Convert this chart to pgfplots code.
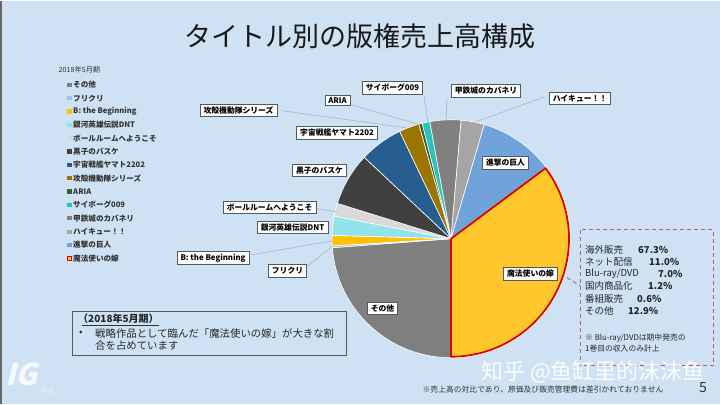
\documentclass[border=0pt]{standalone}
\usepackage{pgfplots}
\pgfplotsset{compat=1.18}
\usepackage{pgfplotstable}
\usepackage{fontspec}
\setmainfont{Noto Sans CJK JP}
\newfontfamily\scfont{Noto Sans CJK SC}
\definecolor{bgblue}{RGB}{206,226,243}
\definecolor{cOther}{RGB}{127,127,127}
\definecolor{cFuri}{RGB}{157,195,230}
\definecolor{cB}{RGB}{255,192,0}
\definecolor{cGinga}{RGB}{145,228,236}
\definecolor{cBall}{RGB}{217,217,217}
\definecolor{cKuroko}{RGB}{64,64,64}
\definecolor{cYamato}{RGB}{38,94,145}
\definecolor{cKokaku}{RGB}{156,117,0}
\definecolor{cAria}{RGB}{62,92,40}
\definecolor{cCyborg}{RGB}{40,196,186}
\definecolor{cKotetsu}{RGB}{128,128,128}
\definecolor{cHaikyu}{RGB}{165,165,165}
\definecolor{cShingeki}{RGB}{112,163,218}
\definecolor{cMaho}{RGB}{255,199,44}
\definecolor{leader}{RGB}{165,182,202}
\definecolor{pinkdash}{RGB}{196,84,140}
\definecolor{boxline}{RGB}{80,90,100}
\definecolor{redline}{RGB}{222,0,0}
\tikzset{lbl/.style={draw=boxline, fill=white, line width=0.5pt,
    font=\bfseries\fontsize{7.8}{9}\selectfont, inner xsep=3.5pt, inner ysep=2.5pt, text=black}}

% start and size of each slice, in percent of the whole
\pgfplotstableread[col sep=comma]{
start,p,col,name
0,23.8,cOther,その他
23.8,0.25,cFuri,フリクリ
24.05,1.4,cB,B: the Beginning
25.45,2.6,cGinga,銀河英雄伝説DNT
28.05,1.75,cBall,ボールルームへようこそ
29.8,7.2,cKuroko,黒子のバスケ
37.0,5.9,cYamato,宇宙戦艦ヤマト2202
42.9,2.75,cKokaku,攻殻機動隊シリーズ
45.65,0.45,cAria,ARIA
46.1,1.05,cCyborg,サイボーグ009
47.15,4.2,cKotetsu,甲鉄城のカバネリ
51.35,3.15,cHaikyu,ハイキュー！！
54.5,10.3,cShingeki,進撃の巨人
64.8,35.2,cMaho,魔法使いの嫁
}\piedata

\begin{document}
\begin{tikzpicture}
\begin{axis}[
  x=1pt, y=1pt, y dir=reverse,
  xmin=0, xmax=720, ymin=0, ymax=403,
  scale only axis, hide axis, clip=false,
]
\fill[bgblue] (axis cs:0,0) rectangle (axis cs:720,403);
\pgfplotsextra{
  % pie slices
  \foreach \i in {0,...,13} {
    \pgfplotstablegetelem{\i}{start}\of\piedata \let\st\pgfplotsretval
    \pgfplotstablegetelem{\i}{p}\of\piedata \let\pp\pgfplotsretval
    \pgfplotstablegetelem{\i}{col}\of\piedata \let\cc\pgfplotsretval
    \pgfmathsetmacro\a{-90-3.6*\st}
    \pgfmathsetmacro\b{\a-3.6*\pp}
    \filldraw[fill=\cc, draw=white, line width=0.6pt, line join=round]
      (axis cs:451,238) -- ++(\a:119pt) arc[start angle=\a, end angle=\b, radius=119pt] -- cycle;
  }
  \pgfplotstablegetelem{13}{start}\of\piedata \let\st\pgfplotsretval
  \pgfplotstablegetelem{13}{p}\of\piedata \let\pp\pgfplotsretval
  \pgfmathsetmacro\a{-90-3.6*\st}
  \pgfmathsetmacro\b{\a-3.6*\pp}
  \draw[draw=redline, line width=1.7pt, line join=round]
    (axis cs:451,238) -- ++(\a:118pt) arc[start angle=\a, end angle=\b, radius=118pt] -- cycle;
  % legend
  \node[anchor=west, font=\fontsize{7.2}{8}\selectfont, text=black!80] at (axis cs:55,69) {2018年5月期};
  \foreach \i in {0,...,13} {
    \pgfplotstablegetelem{\i}{col}\of\piedata \let\cc\pgfplotsretval
    \pgfplotstablegetelem{\i}{name}\of\piedata \let\nn\pgfplotsretval
    \pgfmathsetmacro\yy{84+13.36*\i}
    \node[fill=\cc, minimum size=4.3pt, inner sep=0pt] at (axis cs:69.5,\yy) {};
    \node[anchor=west, font=\bfseries\fontsize{7.6}{8}\selectfont, text=black!80, inner sep=0pt] at (axis cs:73,\yy) {\nn};
  }
  \node[draw=redline, fill=cMaho, line width=0.8pt, minimum size=4.3pt, inner sep=0pt] at (axis cs:69.5,257.7) {};
}
% leader lines
\draw[leader, line width=0.6pt] (axis cs:282,110) -- (axis cs:406,127);
\draw[leader, line width=0.6pt] (axis cs:351,104) -- (axis cs:420,124);
\draw[leader, line width=0.6pt] (axis cs:424,95) -- (axis cs:428,122);
\draw[leader, line width=0.6pt] (axis cs:447,98) -- (axis cs:446,120);
\draw[leader, line width=0.6pt] (axis cs:545,96) -- (axis cs:473,122);
\draw[leader, line width=0.6pt] (axis cs:317,208) -- (axis cs:337,211);
\draw[leader, line width=0.6pt] (axis cs:252,254) -- (axis cs:333,240);
\draw[leader, line width=0.6pt] (axis cs:307,266) -- (axis cs:333,245);
% slice labels
\node[lbl] at (axis cs:238.5,109.5) {攻殻機動隊シリーズ};
\node[lbl] at (axis cs:337.5,99.5) {ARIA};
\node[lbl] at (axis cs:392.5,87) {サイボーグ009};
\node[lbl] at (axis cs:486,90) {甲鉄城のカバネリ};
\node[lbl] at (axis cs:580,98) {ハイキュー！！};
\node[lbl] at (axis cs:337,132) {宇宙戦艦ヤマト2202};
\node[lbl] at (axis cs:319.5,169.5) {黒子のバスケ};
\node[lbl] at (axis cs:505.5,162) {進撃の巨人};
\node[lbl] at (axis cs:269.5,206.5) {ボールルームへようこそ};
\node[lbl] at (axis cs:292.5,226.5) {銀河英雄伝説DNT};
\node[lbl] at (axis cs:213,257) {B: the Beginning};
\node[lbl] at (axis cs:287.5,270) {フリクリ};
\node[lbl] at (axis cs:382.5,307.5) {その他};
\node[lbl] at (axis cs:530.5,273) {魔法使いの嫁};
% title
\node[font=\fontsize{27}{30}\selectfont, text=black!90] at (axis cs:360,36) {タイトル別の版権売上高構成};
% left border
\draw[black!60, line width=1.5pt] (axis cs:0.7,0) -- (axis cs:0.7,403);
% breakdown box
\draw[pinkdash, line width=0.9pt, dash pattern=on 4pt off 3pt] (axis cs:567,277) -- (axis cs:580,285);
\draw[pinkdash, line width=0.9pt, dash pattern=on 4pt off 3pt] (axis cs:580,229) rectangle (axis cs:713,365);
\begin{scope}[every node/.style={anchor=west, inner sep=0pt, text=black!85}]
\node[font=\fontsize{9.5}{10}\selectfont] at (axis cs:585,249) {海外販売};
\node[font=\fontsize{9.5}{10}\selectfont] at (axis cs:585,261) {ネット配信};
\node[font=\fontsize{9.5}{10}\selectfont] at (axis cs:585,273) {Blu-ray/DVD};
\node[font=\fontsize{9.5}{10}\selectfont] at (axis cs:585,285.5) {国内商品化};
\node[font=\fontsize{9.5}{10}\selectfont] at (axis cs:585,298.5) {番組販売};
\node[font=\fontsize{9.5}{10}\selectfont] at (axis cs:585,310) {その他};
\node[font=\bfseries\fontsize{9.5}{10}\selectfont] at (axis cs:638,249) {67.3\%};
\node[font=\bfseries\fontsize{9.5}{10}\selectfont] at (axis cs:649,261) {11.0\%};
\node[font=\bfseries\fontsize{9.5}{10}\selectfont] at (axis cs:658,273) {7.0\%};
\node[font=\bfseries\fontsize{9.5}{10}\selectfont] at (axis cs:648,285.5) {1.2\%};
\node[font=\bfseries\fontsize{9.5}{10}\selectfont] at (axis cs:637,298.5) {0.6\%};
\node[font=\bfseries\fontsize{9.5}{10}\selectfont] at (axis cs:628,310) {12.9\%};
\node[font=\fontsize{7.8}{9}\selectfont] at (axis cs:585,337) {※ Blu-ray/DVDは期中発売の};
\node[font=\fontsize{7.8}{9}\selectfont] at (axis cs:585,348) {1巻目の収入のみ計上};
\end{scope}
% comment box
\draw[boxline, line width=0.7pt] (axis cs:72.5,311) rectangle (axis cs:346,355);
\node[anchor=west, inner sep=0pt, font=\bfseries\fontsize{10}{12}\selectfont, text=black!85] at (axis cs:78,318) {（2018年5月期）};
\draw[black!80, line width=0.6pt] (axis cs:82,324.5) -- (axis cs:159,324.5);
\node[anchor=west, inner sep=0pt, font=\fontsize{10.3}{12}\selectfont, text=black!85] at (axis cs:79,333) {•};
\node[anchor=west, inner sep=0pt, font=\fontsize{10.4}{12}\selectfont, text=black!85] at (axis cs:95,333) {戦略作品として臨んだ「魔法使いの嫁」が大きな割};
\node[anchor=west, inner sep=0pt, font=\fontsize{10.4}{12}\selectfont, text=black!85] at (axis cs:95,344.5) {合を占めています};
% footer
\node[font=\fontsize{7.8}{9}\selectfont, text=black!80] at (axis cs:543,389) {※売上高の対比であり、原価及び販売管理費は差引かれておりません};
\node[font=\fontsize{14}{16}\selectfont, text=black!80] at (axis cs:703,387) {5};
\node[font=\scfont\fontsize{22}{24}\selectfont, text=white, opacity=0.92] at (axis cs:593,371) {知乎 @鱼缸里的沫沫鱼};
% logo
\node[font=\bfseries\fontsize{30}{30}\selectfont, text=white, opacity=0.85, xslant=0.25] at (axis cs:24,374) {IG};
\node[font=\fontsize{6}{7}\selectfont, text=white, opacity=0.85] at (axis cs:48,391) {Port};
\end{axis}
\end{tikzpicture}
\end{document}
